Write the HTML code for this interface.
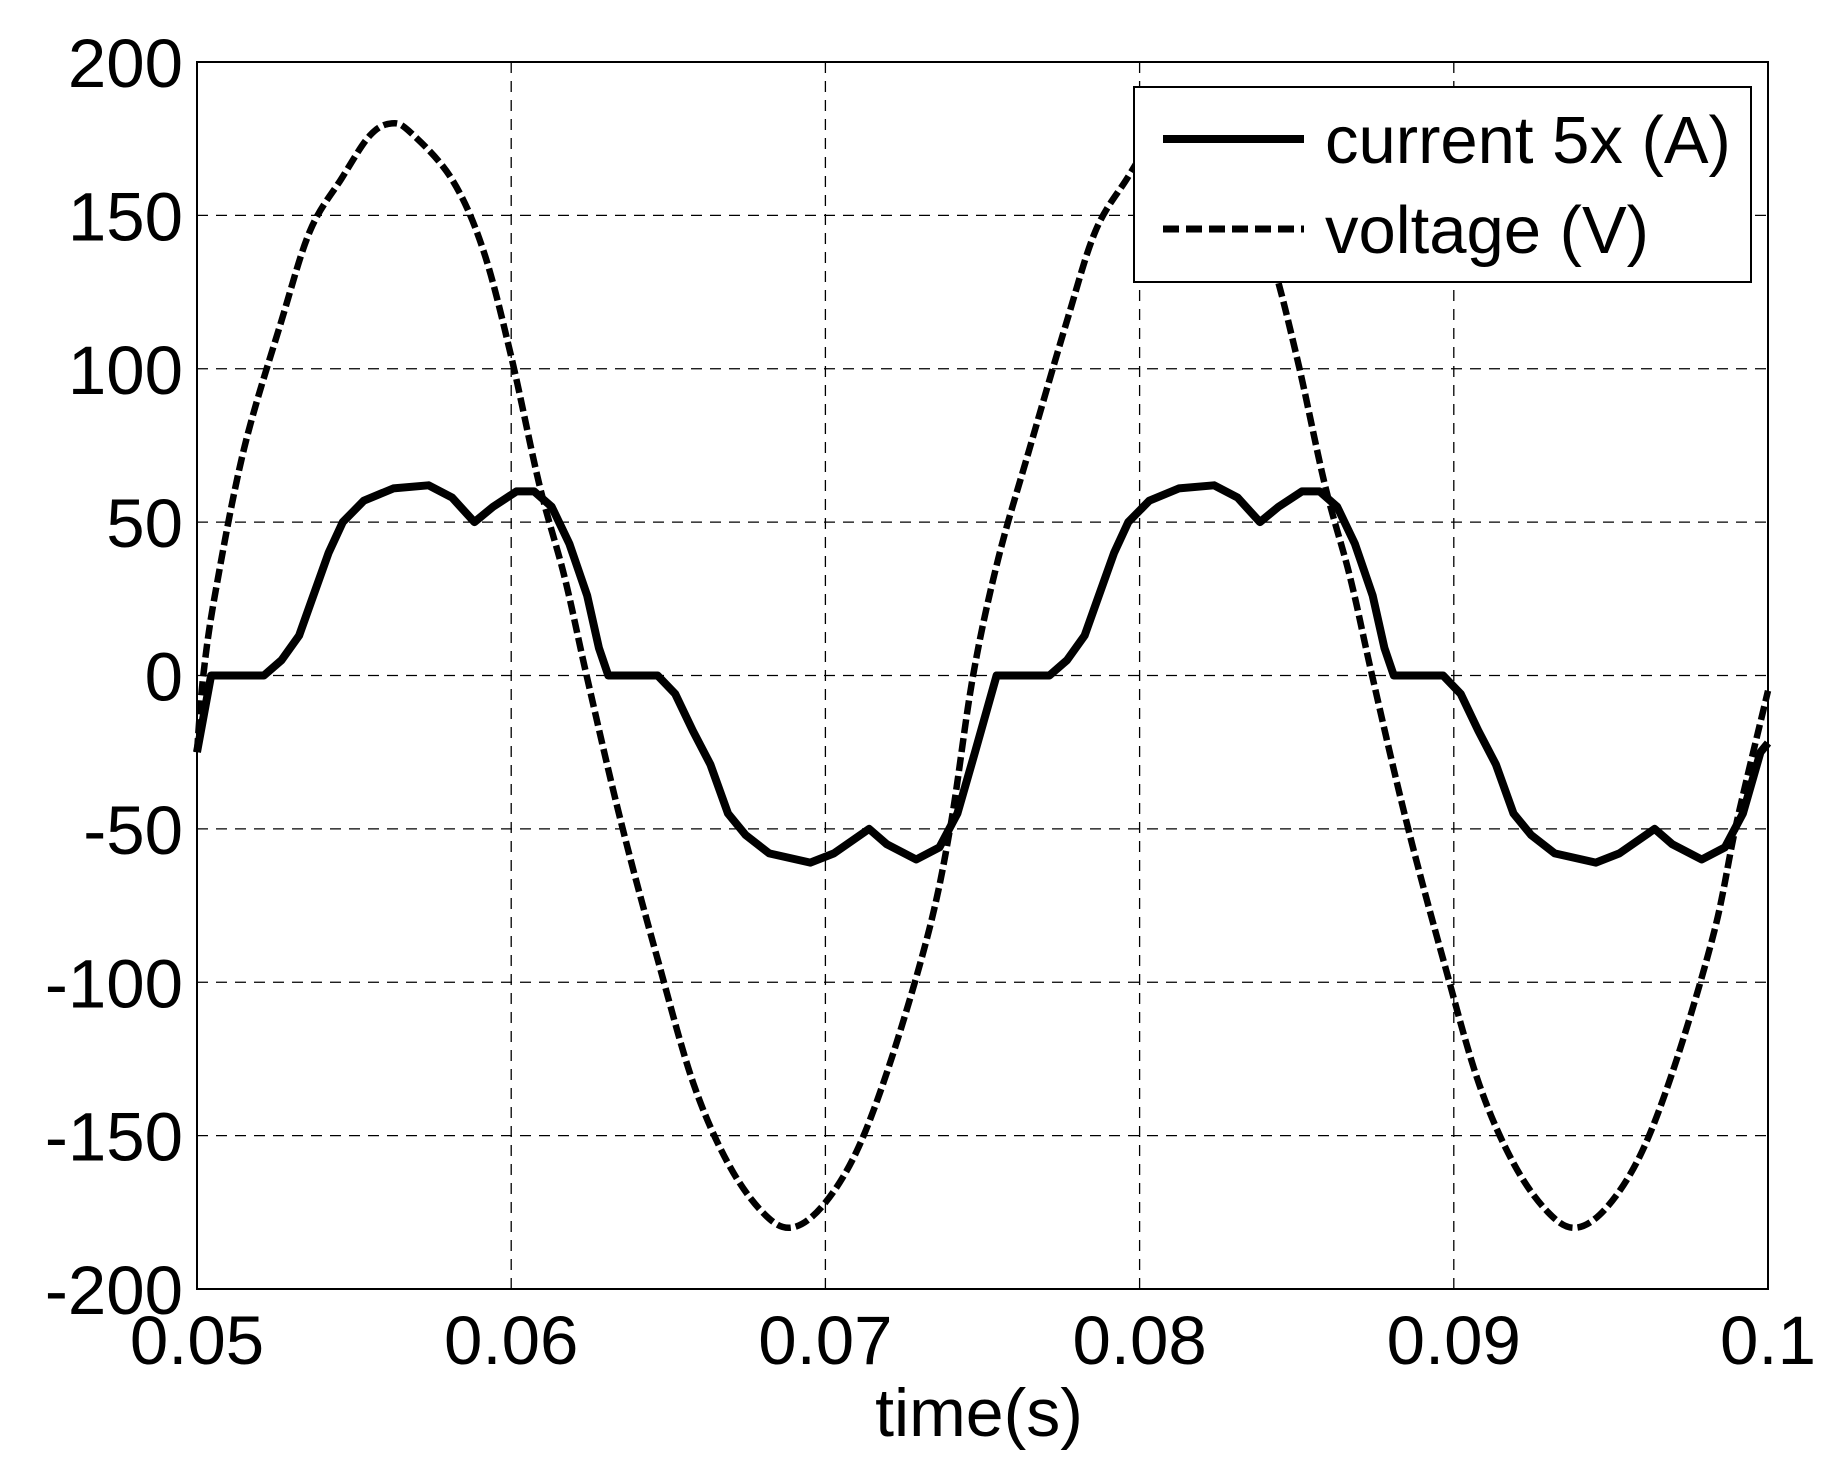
<!DOCTYPE html>
<html><head><meta charset="utf-8"><style>
html,body{margin:0;padding:0;background:#fff;}
svg{display:block;font-family:"Liberation Sans",Arial,sans-serif;}
</style></head><body>
<svg id="chart" width="1843" height="1483" viewBox="0 0 1843 1483" xmlns="http://www.w3.org/2000/svg">
<rect x="0" y="0" width="1843" height="1483" fill="#fff"/>
<g id="grid"></g>
<g id="series"></g>
<rect x="197" y="62" width="1571" height="1227" fill="none" stroke="#000" stroke-width="2"/>
<g id="ticks" font-size="69" fill="#000"></g>
<text x="979" y="1436" font-size="68" text-anchor="middle">time(s)</text>
<g>
<rect x="1134" y="87" width="617" height="195" fill="#fff" stroke="#000" stroke-width="2"/>
<line x1="1163" y1="139" x2="1304" y2="139" stroke="#000" stroke-width="8"/>
<text x="1325" y="163" font-size="67">current 5x (A)</text>
<line x1="1163" y1="229" x2="1304" y2="229" stroke="#000" stroke-width="7" stroke-dasharray="16,7"/>
<text x="1325" y="253" font-size="67">voltage (V)</text>
</g>
</svg>
<script>
const xTicks = [0.05, 0.06, 0.07, 0.08, 0.09, 0.1];
const xTickLabels = ["0.05", "0.06", "0.07", "0.08", "0.09", "0.1"];
const yTicks = [200, 150, 100, 50, 0, -50, -100, -150, -200];
const yTickLabels = ["200", "150", "100", "50", "0", "-50", "-100", "-150", "-200"];
const currentTimeMs = [50.00,50.45,52.13,52.69,53.25,53.63,54.19,54.64,55.31,56.25,57.37,58.12,58.83,59.42,60.17,60.73,61.29,61.85,62.42,62.79,63.09,64.66,65.22,65.78,66.34,66.90,67.46,68.21,69.52,70.27,71.39,71.95,72.89,73.63,74.20,74.76,75.45,77.13,77.69,78.25,78.63,79.19,79.64,80.31,81.25,82.37,83.12,83.83,84.42,85.17,85.73,86.29,86.85,87.42,87.79,88.09,89.66,90.22,90.78,91.34,91.90,92.46,93.21,94.52,95.27,96.39,96.95,97.89,98.63,99.20,99.76,100.0];
const currentValues = [-25,0,0,5,13,24,40,50,57,61,62,58,50,55,60,60,55,43,26,9,0,0,-6,-18,-29,-45,-52,-58,-61,-58,-50,-55,-60,-56,-45,-25,0,0,5,13,24,40,50,57,61,62,58,50,55,60,60,55,43,26,9,0,0,-6,-18,-29,-45,-52,-58,-61,-58,-50,-55,-60,-56,-45,-25,-22];
const voltageTimeMs = [50.0,50.2,50.6,51.5,52.7,53.6,54.6,55.5,56.2,56.8,58.1,59.1,60.0,60.9,61.7,62.4,63.5,64.7,65.8,66.9,68.0,68.9,69.9,71.0,72.1,73.3,74.0,74.7,75.5,76.5,77.7,78.6,79.6,80.5,81.2,81.8,83.1,84.1,85.0,85.9,86.7,87.4,88.5,89.7,90.8,91.9,93.0,93.9,94.9,96.0,97.1,98.3,99.0,100.0];
const voltageValues = [-25,0,28,74,116,145,162,176,180,177,162,139,104,62,32,0,-48,-94,-133,-159,-175,-180,-173,-155,-125,-83,-48,0,38,74,116,145,162,176,180,177,162,139,104,62,32,0,-48,-94,-133,-159,-175,-180,-173,-155,-125,-83,-48,-5];

const NS = "http://www.w3.org/2000/svg";
const X0 = 197, X1 = 1768, Y0 = 62, Y1 = 1289;
function xScale(t) { return X0 + (t - 0.05) / 0.05 * (X1 - X0); }
function yScale(v) { return Y1 - (v + 200) / 400 * (Y1 - Y0); }
function mk(tag, attrs) { const e = document.createElementNS(NS, tag); for (const k in attrs) e.setAttribute(k, attrs[k]); return e; }

const grid = document.getElementById('grid');
const ticks = document.getElementById('ticks');
xTicks.forEach((t, i) => {
  const x = xScale(t);
  if (i > 0 && i < xTicks.length - 1) {
    const l = mk('line', {x1: x, y1: Y0, x2: x, y2: Y1, stroke: '#000', 'stroke-width': 1.3, 'stroke-dasharray': '11,8'});
    
    
    grid.appendChild(l);
  }
  const tx = mk('text', {x: x, y: 1364, 'text-anchor': 'middle'});
  tx.textContent = xTickLabels[i];
  
  
  ticks.appendChild(tx);
});
yTicks.forEach((v, i) => {
  const y = yScale(v);
  if (i > 0 && i < yTicks.length - 1) {
    const l = mk('line', {x1: X0, y1: y, x2: X1, y2: y, stroke: '#000', 'stroke-width': 1.3, 'stroke-dasharray': '11,8'});
    
    
    grid.appendChild(l);
  }
  const tx = mk('text', {x: 183, y: y + 25, 'text-anchor': 'end'});
  tx.textContent = yTickLabels[i];
  
  
  ticks.appendChild(tx);
});

const series = document.getElementById('series');
function pathFor(ts, vs) { return ts.map((t, i) => (i ? 'L' : 'M') + xScale(t / 1000).toFixed(1) + ',' + yScale(vs[i]).toFixed(1)).join(' '); }
function smoothPath(ts, vs) {
  const p = ts.map((t, i) => [xScale(t / 1000), yScale(vs[i])]);
  let d = 'M' + p[0][0].toFixed(1) + ',' + p[0][1].toFixed(1);
  for (let i = 0; i < p.length - 1; i++) {
    const a = p[Math.max(0, i - 1)], b = p[i], c = p[i + 1], e = p[Math.min(p.length - 1, i + 2)];
    const c1x = b[0] + (c[0] - a[0]) / 6, c1y = b[1] + (c[1] - a[1]) / 6;
    const c2x = c[0] - (e[0] - b[0]) / 6, c2y = c[1] - (e[1] - b[1]) / 6;
    d += ' C' + c1x.toFixed(1) + ',' + c1y.toFixed(1) + ' ' + c2x.toFixed(1) + ',' + c2y.toFixed(1) + ' ' + c[0].toFixed(1) + ',' + c[1].toFixed(1);
  }
  return d;
}
const vp = mk('path', {d: smoothPath(voltageTimeMs, voltageValues), fill: 'none', stroke: '#000', 'stroke-width': 6.5, 'stroke-dasharray': '14,5', 'stroke-linejoin': 'round'});


series.appendChild(vp);
const cp = mk('path', {d: pathFor(currentTimeMs, currentValues), fill: 'none', stroke: '#000', 'stroke-width': 8, 'stroke-linejoin': 'round'});


series.appendChild(cp);
</script>
</body></html>
